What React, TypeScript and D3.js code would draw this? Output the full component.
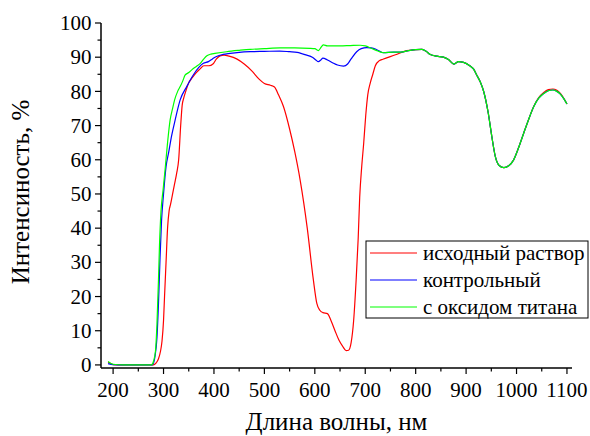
import React from 'react';
import * as d3 from 'd3';

// wavelength (nm) / intensity (%)
const redX = [190, 195, 200, 220, 250, 280, 285, 290, 294, 297, 300, 302, 305, 308, 311, 314, 318, 322, 326, 330, 334, 337, 340, 344, 350, 357, 365, 372, 380, 390, 398, 405, 412, 420, 430, 445, 460, 475, 490, 500, 512, 520, 528, 538, 550, 560, 571, 585, 597, 604, 610, 616, 625, 632, 640, 648, 655, 662, 667, 672, 677, 682, 686, 689, 693, 697, 701, 705, 710, 715, 720, 728, 735, 760, 782];
const redY = [0.8, 0.4, 0.1, 0, 0, 0, 0.5, 1.8, 4, 7, 13, 20, 30, 40, 45, 47, 50, 53, 56, 60, 70, 76, 78, 80, 82.5, 84, 85.5, 86.5, 87.5, 87.5, 88, 89.5, 90.4, 90.6, 90.3, 89.5, 88, 86, 83.5, 82.3, 81.8, 81.3, 79, 75.5, 69, 62.5, 54, 40, 25, 18, 16, 15.3, 15, 13, 10, 7.2, 5.5, 4.2, 4.3, 6.5, 13, 25, 37, 49, 58, 65, 73, 79, 82.5, 85, 87.5, 89, 89.4, 90.7, 91.9];

const blueX = [190, 200, 220, 250, 278, 283, 287, 290, 293, 296, 300, 305, 310, 316, 323, 333, 346, 359, 370, 379, 389, 397, 405, 418, 432, 450, 472, 500, 530, 550, 565, 575, 584, 595, 602, 607, 612, 616, 625, 635, 645, 657, 665, 672, 683, 692, 703, 712, 720, 728];
const blueY = [0.4, 0.1, 0, 0, 0, 2.4, 8, 18, 31, 42, 50, 58, 62, 67, 71.6, 77.5, 81.4, 84.8, 87, 88.2, 88.7, 89.5, 90.2, 90.8, 91.1, 91.4, 91.6, 91.7, 91.8, 91.6, 91.4, 91, 90.6, 90, 89.2, 88.7, 89.2, 89.7, 89.2, 88.4, 87.7, 87.4, 88, 89.5, 91.6, 92.5, 92.8, 92.7, 92.4, 91.8];

const greenX = [190, 195, 200, 220, 250, 276, 280, 284, 287, 290, 292, 295, 299, 303, 308, 313, 318, 322, 328, 333, 338, 343, 350, 356, 365, 373, 380, 386, 394, 402, 425, 450, 472, 500, 531, 560, 590, 600, 604, 607, 611, 617, 625, 650, 670, 690, 700, 712, 725];
const greenY = [1.0, 0.5, 0.2, 0, 0, 0, 1, 4, 12, 25, 35, 45, 51, 57, 65, 71.6, 75, 77.5, 80, 81.4, 83, 84.8, 85.5, 86.3, 87.3, 88.2, 89.5, 90.4, 90.9, 91.1, 91.6, 92, 92.3, 92.5, 92.7, 92.7, 92.6, 92.5, 92.2, 91.9, 92.6, 93.6, 93.3, 93.3, 93.4, 93.5, 93.3, 92.6, 91.8];

// shared tail, all three samples coincide here
const tailX = [736, 756, 770, 789, 800, 812, 820, 829, 842, 855, 865, 876, 885, 895, 908, 915, 921, 928, 935, 944, 951, 958, 965, 975, 985, 994, 1004, 1014, 1024, 1034, 1044, 1054, 1063, 1072, 1080, 1087, 1094, 1100];
const tailY = [91.3, 91.5, 91.5, 92.0, 92.2, 92.3, 91.8, 90.8, 90.3, 90, 89.3, 88, 88.7, 88.5, 87.4, 86.5, 84.8, 82.8, 79.9, 73.6, 66.8, 60.9, 58.4, 57.7, 58.3, 59.9, 63.5, 67.7, 71.8, 75.5, 78, 79.4, 80.2, 80.4, 80, 79.2, 77.8, 76.3];
const redTailBump = [0, 0, 0, 0, 0, 0, 0, 0, 0, 0, 0, 0, 0, 0, 0, 0, 0, 0, 0, 0, 0, 0, 0, 0, 0, 0, 0, 0, 0, 0.1, 0.2, 0.3, 0.3, 0.3, 0.3, 0.2, 0.1, 0];

const seriesNames = ['исходный раствор', 'контрольный', 'с оксидом титана'];
const seriesColors = ['#ff0000', '#0000ff', '#00ff00'];

const xTicks = [200, 300, 400, 500, 600, 700, 800, 900, 1000, 1100];
const yTicks = [0, 10, 20, 30, 40, 50, 60, 70, 80, 90, 100];

const toPoints = (xs: number[], ys: number[]) => xs.map((x, i) => [x, ys[i]] as [number, number]);

const series = [
  toPoints(redX, redY).concat(toPoints(tailX.filter(x => x >= 800), tailY.filter((_, i) => tailX[i] >= 800).map((v, i, a) => v + redTailBump[tailX.length - a.length + i]))),
  toPoints(blueX, blueY).concat(toPoints(tailX, tailY)),
  toPoints(greenX, greenY).concat(toPoints(tailX, tailY)),
];

const W = 590;
const H = 436;
const left = 101, right = 572, top = 23, bottom = 368;
const FONT = '"Liberation Serif", "Times New Roman", serif';

export default function App() {
  const x = d3.scaleLinear().domain([176, 1110]).range([left, right]);
  const y = d3.scaleLinear().domain([-0.9, 100]).range([bottom, top]);
  const line = d3.line<[number, number]>()
    .x(d => x(d[0]))
    .y(d => y(d[1]))
    .curve(d3.curveMonotoneX);

  const xMinor = d3.range(250, 1100, 100);
  const yMinor = d3.range(5, 100, 10);

  return (
    <svg width={W} height={H} style={{ position: 'absolute', left: 0, top: 0, background: '#fff' }} fontFamily={FONT}>
      {series.map((pts, i) => (
        <path key={i} d={line(pts) || ''} fill="none" stroke={seriesColors[i]} strokeWidth={1.2} />
      ))}

      {/* axes */}
      <line x1={left} x2={left} y1={top} y2={bottom} stroke="#000" strokeWidth={1.5} />
      <line x1={left} x2={right} y1={bottom} y2={bottom} stroke="#000" strokeWidth={1.5} />
      {yTicks.map(t => (
        <g key={t}>
          <line x1={left - 6} x2={left} y1={y(t)} y2={y(t)} stroke="#000" strokeWidth={1.2} />
          <text x={left - 9.5} y={y(t)} dy="0.34em" textAnchor="end" fontSize={21}>{t}</text>
        </g>
      ))}
      {yMinor.map(t => (
        <line key={t} x1={left - 3.5} x2={left} y1={y(t)} y2={y(t)} stroke="#000" strokeWidth={1.2} />
      ))}
      {xTicks.map(t => (
        <g key={t}>
          <line x1={x(t)} x2={x(t)} y1={bottom} y2={bottom + 6} stroke="#000" strokeWidth={1.2} />
          <text x={x(t)} y={397} textAnchor="middle" fontSize={21}>{t}</text>
        </g>
      ))}
      {xMinor.map(t => (
        <line key={t} x1={x(t)} x2={x(t)} y1={bottom} y2={bottom + 3.5} stroke="#000" strokeWidth={1.2} />
      ))}

      <text x={(left + right) / 2} y={430} textAnchor="middle" fontSize={25}>Длина волны, нм</text>
      <text transform={`translate(29,192) rotate(-90)`} textAnchor="middle" fontSize={25}>Интенсиность, %</text>

      {/* legend */}
      <rect x={366} y={241} width={222} height={77} fill="#fff" stroke="#000" strokeWidth={1} />
      {seriesNames.map((name, i) => (
        <g key={name} transform={`translate(0,${253 + i * 27})`}>
          <line x1={370} x2={417} y1={0} y2={0} stroke={seriesColors[i]} strokeWidth={1.2} />
          <text x={423} y={0} dy="0.32em" fontSize={21}>{name}</text>
        </g>
      ))}
    </svg>
  );
}
